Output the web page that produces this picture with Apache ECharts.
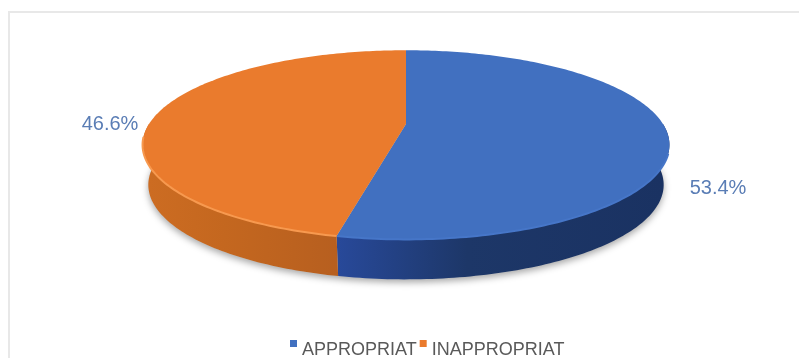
<!DOCTYPE html>
<html>
<head>
<meta charset="utf-8">
<style>html,body{margin:0;padding:0;background:#fff}#c{width:799px;height:358px;filter:blur(0.5px)}</style>
<script src="https://cdn.jsdelivr.net/npm/echarts@6/dist/echarts.min.js"></script>
</head>
<body>
<div id="c"></div>
<script>
const categories = ['APPROPRIAT', 'INAPPROPRIAT'];
const shares = [53.4, 46.6];
const shareLabels = ['53.4%', '46.6%'];
const topColors = ['#4170c0', '#ea7b2d'];
const rimColors = ['#4676c8', '#f7994f'];
const wallStops = [['#1a3262', '#1d3768', '#28499a'], ['#b75f1f', '#c4671f', '#cc6c22']];
const labelColor = '#5a7db5';
const labelAnchors = [[718, 188], [110, 124]];

// Perspective projection of the pie's circular top face
const CX = 406, APEX_Y = 124, RX = 257, RY = 90, P = 0.22, DEPTH = 40, BOTTOM_SCALE = 0.978;
function rim(deg, drop, scale) {
  const a = deg * Math.PI / 180, u = Math.sin(a), v = -Math.cos(a), w = 1 - P * v;
  return [CX + scale * RX * u / w, APEX_Y + RY * v / w + drop];
}
function arc(from, to, drop, scale) {
  const pts = [], n = Math.max(2, Math.ceil(Math.abs(to - from)));
  for (let i = 0; i <= n; i++) pts.push(rim(from + (to - from) * i / n, drop, scale));
  return pts;
}
const total = shares.reduce((a, b) => a + b, 0);

function makeRender(idx) {
  return function (params, api) {
    const before = shares.slice(0, idx).reduce((a, b) => a + b, 0);
    const start = before / total * 360, end = (before + api.value(0)) / total * 360;
    const children = [];
    if (idx === 0) {
      children.push({
        type: 'polygon',
        shape: { points: arc(0, 360, DEPTH, BOTTOM_SCALE) },
        style: { fill: '#c9c9c9', shadowBlur: 7, shadowOffsetY: 3, shadowColor: 'rgba(0,0,0,0.35)' }
      });
    }
    const wFrom = Math.max(start, 90), wTo = Math.min(end, 270);
    if (wTo > wFrom) {
      const x0 = rim(wFrom, 0, 1)[0], x1 = rim(wTo, 0, 1)[0];
      const s = wallStops[idx];
      children.push({
        type: 'polygon',
        shape: { points: arc(wFrom, wTo, 0, 1).concat(arc(wTo, wFrom, DEPTH, BOTTOM_SCALE)) },
        style: {
          fill: new echarts.graphic.LinearGradient(x0, 0, x1, 0, [
            { offset: 0, color: s[0] }, { offset: 0.6, color: s[1] }, { offset: 1, color: s[2] }
          ], true)
        }
      });
    }
    children.push({
      type: 'polygon',
      shape: { points: [[CX, APEX_Y]].concat(arc(start, end, 0, 1)) },
      style: { fill: api.visual('color') }
    });
    const hFrom = Math.max(start, 108), hTo = Math.min(end, 262);
    if (hTo > hFrom) {
      children.push({
        type: 'polyline',
        shape: { points: arc(hFrom, hTo, 0, 1) },
        style: { fill: null, stroke: rimColors[idx], lineWidth: 2 }
      });
    }
    children.push({
      type: 'text',
      style: {
        text: shareLabels[idx], x: labelAnchors[idx][0], y: labelAnchors[idx][1],
        align: 'center', verticalAlign: 'middle',
        font: '20px "Liberation Sans"', fill: labelColor
      }
    });
    return { type: 'group', children };
  };
}

const chart = echarts.init(document.getElementById('c'), null, { renderer: 'canvas' });
chart.setOption({
  animation: false,
  backgroundColor: '#ffffff',
  graphic: [{
    type: 'rect', silent: true, z: -10,
    shape: { x: 9, y: 12, width: 900, height: 500 },
    style: { fill: '#ffffff', stroke: '#e8e8e8', lineWidth: 2 }
  }],
  legend: {
    data: categories,
    left: 285,
    top: 335,
    itemWidth: 7,
    itemHeight: 21,
    itemGap: 3,
    icon: 'path://M0,0H7V7H0Z M0,21L0,21Z',
    textStyle: { fontFamily: 'Liberation Sans', fontSize: 18, color: '#595959' }
  },
  series: categories.map((name, idx) => ({
    type: 'custom',
    name,
    coordinateSystem: 'none',
    z: 2 + idx,
    itemStyle: { color: topColors[idx] },
    data: [[shares[idx]]],
    renderItem: makeRender(idx)
  }))
});
</script>
</body>
</html>
